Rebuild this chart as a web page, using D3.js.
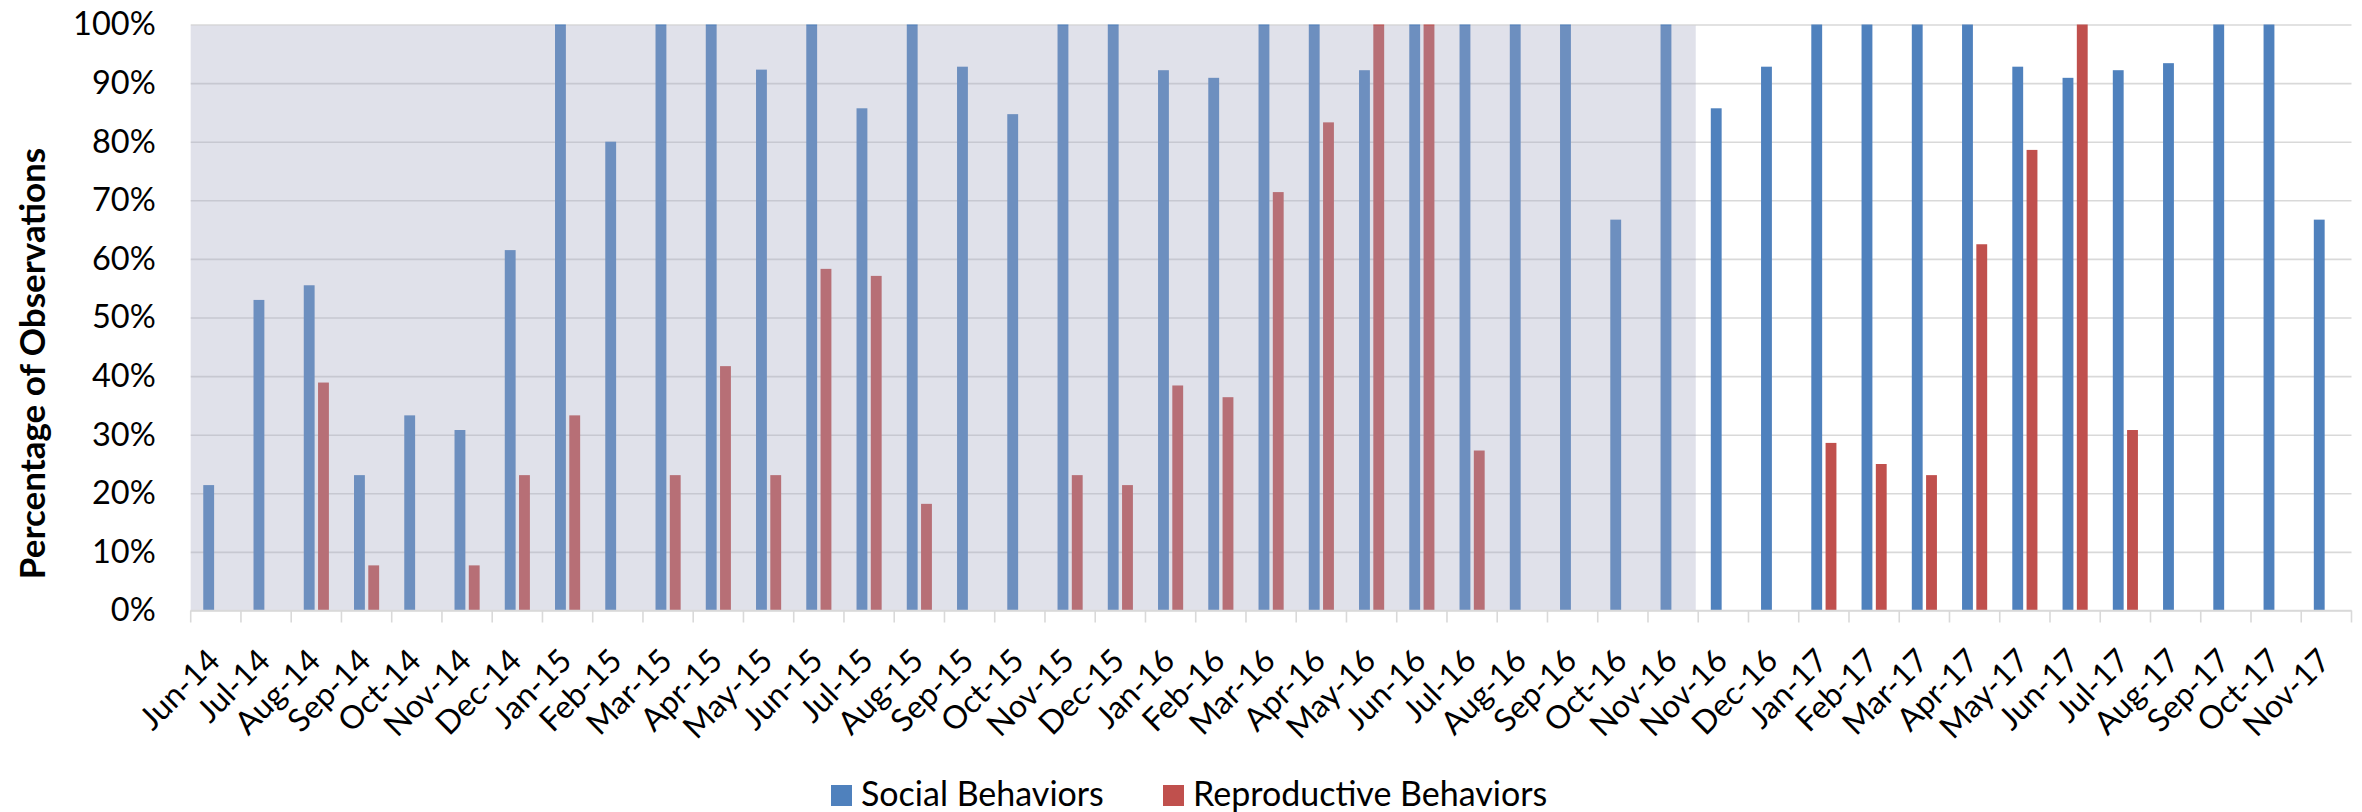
<!DOCTYPE html>
<html>
<head>
<meta charset="utf-8">
<script src="https://cdn.jsdelivr.net/npm/d3@7"></script>
<style>
  html, body { margin: 0; padding: 0; background: #fff; }
  svg { display: block; }
</style>
</head>
<body>
<svg id="chart" width="2362" height="812"></svg>
<script>
// ---------------- DATA ----------------
const months = ["Jun-14","Jul-14","Aug-14","Sep-14","Oct-14","Nov-14","Dec-14",
  "Jan-15","Feb-15","Mar-15","Apr-15","May-15","Jun-15","Jul-15","Aug-15","Sep-15","Oct-15","Nov-15","Dec-15",
  "Jan-16","Feb-16","Mar-16","Apr-16","May-16","Jun-16","Jul-16","Aug-16","Sep-16","Oct-16","Nov-16",
  "Nov-16","Dec-16",
  "Jan-17","Feb-17","Mar-17","Apr-17","May-17","Jun-17","Jul-17","Aug-17","Sep-17","Oct-17","Nov-17"];

const socialBehaviors = [21.4, 53.0, 55.5, 23.1, 33.3, 30.8, 61.5,
  100, 80.0, 100, 100, 92.3, 100, 85.7, 100, 92.8, 84.7, 100, 100,
  92.2, 90.9, 100, 100, 92.2, 100, 100, 100, 100, 66.7, 100,
  85.7, 92.8,
  100, 100, 100, 100, 92.8, 90.9, 92.2, 93.4, 100, 100, 66.7];

const reproductiveBehaviors = [null, null, 38.9, 7.7, null, 7.7, 23.1,
  33.3, null, 23.1, 41.7, 23.1, 58.3, 57.1, 18.2, null, null, 23.1, 21.4,
  38.4, 36.4, 71.4, 83.3, 100, 100, 27.3, null, null, null, null,
  null, null,
  28.6, 25.0, 23.1, 62.5, 78.6, 100, 30.8, null, null, null, null];

const seriesNames = ["Social Behaviors", "Reproductive Behaviors"];
const seriesColors = ["#4f81bd", "#c0504d"];
const yTickValues = [0, 10, 20, 30, 40, 50, 60, 70, 80, 90, 100];
const shadedThrough = 29; // index of last category inside the shaded period

// ---------------- LAYOUT ----------------
const W = 2362, H = 812;
const plot = { left: 190.7, right: 2351.5, top: 24.5, bottom: 610.5 };
const FONT = "Lato, 'Open Sans', sans-serif";

const svg = d3.select("#chart");

const idx = d3.range(months.length);
const x0 = d3.scaleBand().domain(idx).range([plot.left, plot.right]).padding(0);
const x1 = d3.scaleBand().domain([0, 1]).range([0, x0.bandwidth()])
  .paddingInner(0.24).paddingOuter(0.88);
const y = d3.scaleLinear().domain([0, 100]).range([plot.bottom, plot.top]);

// gridlines + y tick labels
const yAxis = d3.axisLeft(y)
  .tickValues(yTickValues)
  .tickSize(-(plot.right - plot.left))
  .tickPadding(35)
  .tickFormat(d => d + "%");

const gy = svg.append("g")
  .attr("transform", `translate(${plot.left},0)`)
  .call(yAxis);
gy.select(".domain").remove();
gy.selectAll(".tick line").attr("stroke", "#d9d9d9").attr("stroke-width", 1.6);
gy.selectAll(".tick text")
  .attr("fill", "#000")
  .style("font-family", FONT)
  .style("font-size", "32.5px");

// bars
const seriesData = [socialBehaviors, reproductiveBehaviors];
seriesData.forEach((vals, s) => {
  svg.append("g")
    .selectAll("rect")
    .data(idx.filter(i => vals[i] != null))
    .join("rect")
    .attr("x", i => x0(i) + x1(s))
    .attr("width", x1.bandwidth())
    .attr("y", i => y(vals[i]))
    .attr("height", i => y(0) - y(vals[i]))
    .attr("fill", seriesColors[s]);
});

// shaded period overlay (translucent)
svg.append("rect")
  .attr("x", x0(0))
  .attr("y", y(100) + 1)
  .attr("width", x0(shadedThrough) + x0.step() - x0(0) - 2.5)
  .attr("height", y(0) - y(100) - 1)
  .attr("fill", "rgb(165,168,195)")
  .attr("opacity", 0.35);

// x axis baseline + boundary ticks
const gx = svg.append("g");
gx.append("line")
  .attr("x1", plot.left).attr("x2", plot.right)
  .attr("y1", y(0)).attr("y2", y(0))
  .attr("stroke", "#d9d9d9").attr("stroke-width", 1.6);
gx.selectAll("line.bt")
  .data(d3.range(months.length + 1))
  .join("line")
  .attr("class", "bt")
  .attr("x1", i => plot.left + i * x0.step())
  .attr("x2", i => plot.left + i * x0.step())
  .attr("y1", y(0)).attr("y2", y(0) + 12)
  .attr("stroke", "#d9d9d9").attr("stroke-width", 1.6);

// x labels (rotated -45)
gx.selectAll("text.xl")
  .data(idx)
  .join("text")
  .attr("class", "xl")
  .attr("transform", i => `translate(${x0(i) + x0.bandwidth() / 2 + 6},${y(0) + 52}) rotate(-45)`)
  .attr("text-anchor", "end")
  .attr("fill", "#000")
  .style("font-family", FONT)
  .style("font-size", "32px")
  .text(i => months[i]);

// y axis title
svg.append("text")
  .attr("transform", `translate(45,${(plot.top + plot.bottom) / 2 + 46}) rotate(-90)`)
  .attr("text-anchor", "middle")
  .attr("fill", "#000")
  .style("font-family", FONT)
  .style("font-weight", "bold")
  .style("font-size", "35px")
  .text("Percentage of Observations");

// legend
const legendItems = [{ x: 831 }, { x: 1163 }];
const lg = svg.append("g");
seriesNames.forEach((name, s) => {
  lg.append("rect")
    .attr("x", legendItems[s].x).attr("y", 785)
    .attr("width", 21).attr("height", 21)
    .attr("fill", seriesColors[s]);
  lg.append("text")
    .attr("x", legendItems[s].x + 30).attr("y", 806)
    .attr("fill", "#000")
    .style("font-family", FONT)
    .style("font-size", "34px")
    .text(name);
});
</script>
</body>
</html>
